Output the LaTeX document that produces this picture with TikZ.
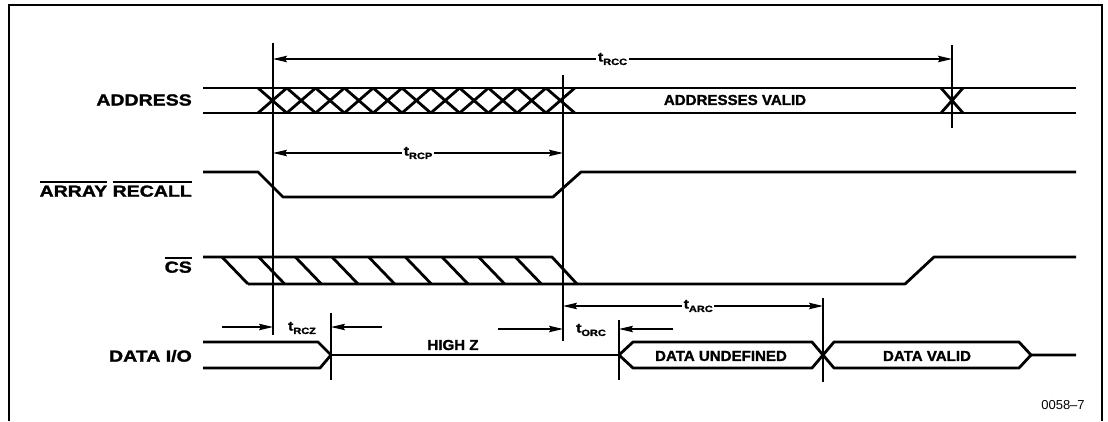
\documentclass[tikz,border=0pt]{standalone}
\usepackage{fontspec}
\setsansfont{Liberation Sans}
\newfontfamily\sigfont[FakeStretch=1.22, FakeBold=1.6]{Liberation Sans Bold}
\newfontfamily\busfont[FakeStretch=1.04, FakeBold=1.4]{Liberation Sans Bold}
\usepackage{tikz}
\usetikzlibrary{arrows.meta}
\newcommand{\tname}[1]{t\raisebox{-3.5pt}{\fontsize{9}{9}\selectfont #1}}
\newcommand{\ovl}[1]{\vbox{\hrule height 1.8pt \kern 2.5pt \hbox{#1}}}
\tikzstyle{signame} = [anchor=east,
					  inner sep=0pt,
					  font=\sigfont\fontsize{16}{16}\selectfont,
					 ]
\tikzstyle{buslabel} = [inner sep=1pt,
					   font=\busfont\fontsize{14.5}{15}\selectfont,
					  ]
\tikzstyle{tlabel} = [fill=white,
					 inner sep=1.5pt,
					 font=\sigfont\fontsize{13}{13}\selectfont,
					]
\tikzstyle{wave} = [line width=2.8pt, line join=round]
\tikzstyle{marker} = [line width=1.8pt]
\tikzstyle{dimarrow} = [line width=1.4pt,-{Stealth[length=14pt,width=6.5pt,inset=2pt]}]
\tikzstyle{dimboth} = [line width=1.4pt,{Stealth[length=14pt,width=6.5pt,inset=2pt]}-{Stealth[length=14pt,width=6.5pt,inset=2pt]}]
\begin{document}
\begin{tikzpicture}[x=1pt,y=-1pt]
\useasboundingbox (0,0) rectangle (1108,421);

% frame
\draw [line width=1.3pt] (9,421) -- (9,5) -- (1102,5) -- (1102,421);

% signal names
\node (addr) [signame] at (192,100) {ADDRESS};
\node (arrrec) [signame] at (192,189) {\ovl{ARRAY} \ovl{RECALL}};
\node (cs) [signame] at (192,265) {\ovl{CS}};
\node (dataio) [signame] at (192,356) {DATA I/O};

% address bus
\draw [wave] (203,88) -- (1076,88);
\draw [wave] (203,113) -- (1076,113);
\foreach \i in {0,...,10}
	\draw [wave] ({258+28.8*\i},88) -- ({286.8+28.8*\i},113)
	             ({258+28.8*\i},113) -- ({286.8+28.8*\i},88);
\draw [wave] (941,88) -- (963,113) (941,113) -- (963,88);
\node (addrvalid) [buslabel] at (735,100) {ADDRESSES VALID};

% array recall
\draw [wave] (203,172) -- (258,172) -- (283,197) -- (553,197) -- (581,172) -- (1076,172);

% chip select
\draw [wave] (203,257) -- (552,257) -- (577,284);
\draw [wave] (248,284) -- (905,284) -- (934,257) -- (1076,257);
\foreach \i in {0,...,8}
	\draw [wave] ({222+36.67*\i},257) -- ({248+36.67*\i},284);

% data i/o
\draw [wave] (203,342) -- (318,342) -- (331,355) -- (320,368) -- (203,368);
\draw [wave] (331,355) -- (619,355);
\draw [wave] (619,355) -- (633,342) -- (812,342) -- (823,355) -- (834,342) -- (1019,342) -- (1031,355) -- (1076,355);
\draw [wave] (619,355) -- (633,368) -- (812,368) -- (823,355) -- (834,368) -- (1019,368) -- (1031,355);
\node (highz) [buslabel] at (453,345) {HIGH Z};
\node (dataundef) [buslabel] at (721,356) {DATA UNDEFINED};
\node (datavalid) [buslabel] at (927,356) {DATA VALID};

% timing markers
\coordinate (m1top) at (273,43);
\coordinate (m1bot) at (273,335);
\coordinate (m2top) at (563,75);
\coordinate (m2bot) at (563,341);
\coordinate (m3top) at (952,45);
\coordinate (m3bot) at (952,128);
\coordinate (m4top) at (331,313);
\coordinate (m4bot) at (331,380);
\coordinate (m5top) at (619,320);
\coordinate (m5bot) at (619,380);
\coordinate (m6top) at (823,298);
\coordinate (m6bot) at (823,382);
\draw [marker] (m1top) -- (m1bot);
\draw [marker] (m2top) -- (m2bot);
\draw [marker] (m3top) -- (m3bot);
\draw [marker] (m4top) -- (m4bot);
\draw [marker] (m5top) -- (m5bot);
\draw [marker] (m6top) -- (m6bot);

% timing arrows
\coordinate (rccL) at (273,59);
\coordinate (rccR) at (952,59);
\draw [dimboth] (rccL) -- node (trcc) [tlabel] {\tname{RCC}} (rccR);
\coordinate (rcpL) at (273,153);
\coordinate (rcpR) at (563,153);
\draw [dimboth] (rcpL) -- node (trcp) [tlabel] {\tname{RCP}} (rcpR);
\coordinate (arcL) at (563,306);
\coordinate (arcR) at (823,306);
\draw [dimboth] (arcL) -- node (tarc) [tlabel, pos=0.52] {\tname{ARC}} (arcR);

\coordinate (rczA) at (222,327);
\coordinate (rczB) at (273,327);
\coordinate (rczC) at (382,327);
\coordinate (rczD) at (331,327);
\draw [dimarrow] (rczA) -- (rczB);
\draw [dimarrow] (rczC) -- (rczD);
\node (trcz) [tlabel] at (302,328) {\tname{RCZ}};

\coordinate (orcA) at (498,329);
\coordinate (orcB) at (563,329);
\coordinate (orcC) at (673,329);
\coordinate (orcD) at (619,329);
\draw [dimarrow] (orcA) -- (orcB);
\draw [dimarrow] (orcC) -- (orcD);
\node (torc) [tlabel] at (591,330) {\tname{ORC}};

\node (fignum) [font=\sffamily\fontsize{13}{13}\selectfont] at (1063,405) {0058--7};

\end{tikzpicture}
\end{document}
